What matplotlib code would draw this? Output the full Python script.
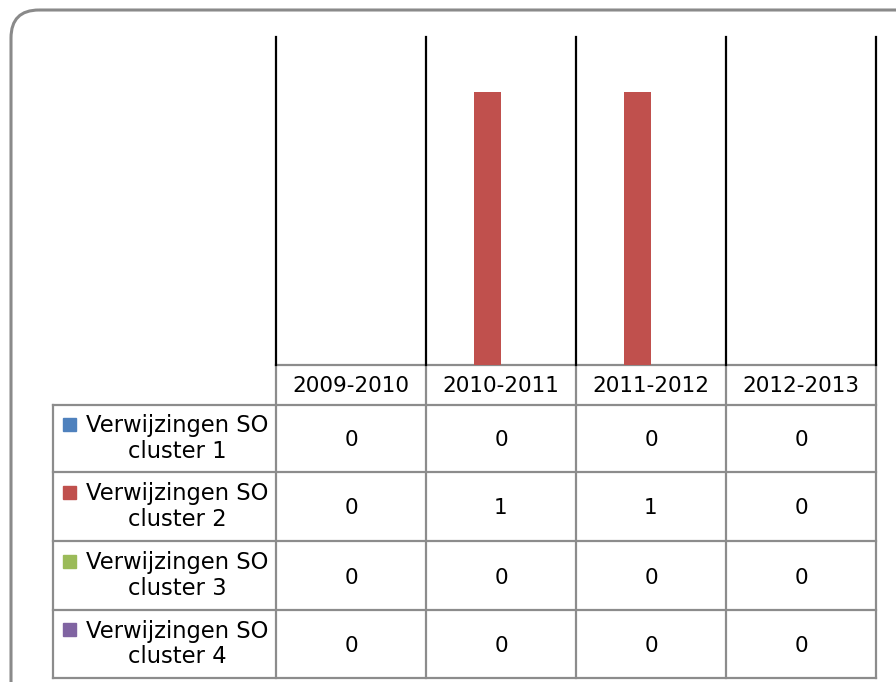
import matplotlib.pyplot as plt
import numpy as np
from matplotlib.patches import FancyBboxPatch, Rectangle

# data
categories = ["2009-2010", "2010-2011", "2011-2012", "2012-2013"]
series_names = ["Verwijzingen SO\ncluster 1", "Verwijzingen SO\ncluster 2",
                "Verwijzingen SO\ncluster 3", "Verwijzingen SO\ncluster 4"]
values = [
    [0, 0, 0, 0],
    [0, 1, 1, 0],
    [0, 0, 0, 0],
    [0, 0, 0, 0],
]
colors = ["#4F81BD", "#C0504D", "#9BBB59", "#8064A2"]

W, H = 896, 682
fig = plt.figure(figsize=(W / 100, H / 100), dpi=100)
plt.rcParams['font.family'] = ['DejaVu Sans']
FS = 15.5
FS_LEG = 16.3

# overlay axes in pixel coords for frame + data table
bg = fig.add_axes([0, 0, 1, 1])
bg.set_xlim(0, W)
bg.set_ylim(H, 0)
bg.axis("off")

frame = FancyBboxPatch((11, 10), 920, 700, boxstyle="round,pad=0,rounding_size=28",
                       fill=False, ec="#8a8a8a", lw=2.2)
bg.add_patch(frame)

# plot area
x0, x1, ytop, ybot = 276, 876, 37, 365
ax = fig.add_axes([x0 / W, 1 - ybot / H, (x1 - x0) / W, (ybot - ytop) / H])
n = len(categories)
ns = len(values)
bw = 0.18
x = np.arange(n)
for i, vals in enumerate(values):
    ax.bar(x + (i - (ns - 1) / 2) * bw, vals, width=bw, color=colors[i])
ax.set_xlim(-0.5, n - 0.5)
ax.set_ylim(0, 1.2)
for b in np.arange(-0.5, n, 1.0):
    ax.axvline(b, color="black", lw=1.6, clip_on=False)
for s in ax.spines.values():
    s.set_visible(False)
ax.set_xticks([])
ax.set_yticks([])
ax.patch.set_alpha(0)

# data table
grid_c = "#8c8c8c"
col_edges = np.linspace(x0, x1, n + 1)
leg_left = 53
row_edges = [365, 405, 472, 541, 610, 678]
lw = 1.6

# header row
bg.plot([x0, x1], [row_edges[0], row_edges[0]], color=grid_c, lw=lw)
for j, cat in enumerate(categories):
    cx = (col_edges[j] + col_edges[j + 1]) / 2
    bg.text(cx, (row_edges[0] + row_edges[1]) / 2 + 1, cat, ha="center", va="center", fontsize=FS)
for r in row_edges[1:]:
    bg.plot([leg_left, x1], [r, r], color=grid_c, lw=lw)
for cxe in col_edges:
    bg.plot([cxe, cxe], [row_edges[0], row_edges[-1]], color=grid_c, lw=lw)
bg.plot([leg_left, leg_left], [row_edges[1], row_edges[-1]], color=grid_c, lw=lw)

for i, name in enumerate(series_names):
    rt, rb = row_edges[i + 1], row_edges[i + 2]
    cy = (rt + rb) / 2
    bg.text(177, cy, name, ha="center", va="center", fontsize=FS_LEG, linespacing=1.12)
    bg.add_patch(Rectangle((63, cy - 21), 13, 13, color=colors[i]))
    for j in range(n):
        cx = (col_edges[j] + col_edges[j + 1]) / 2
        bg.text(cx, cy + 2, str(values[i][j]), ha="center", va="center", fontsize=FS)

fig.savefig("out.png", dpi=100)
